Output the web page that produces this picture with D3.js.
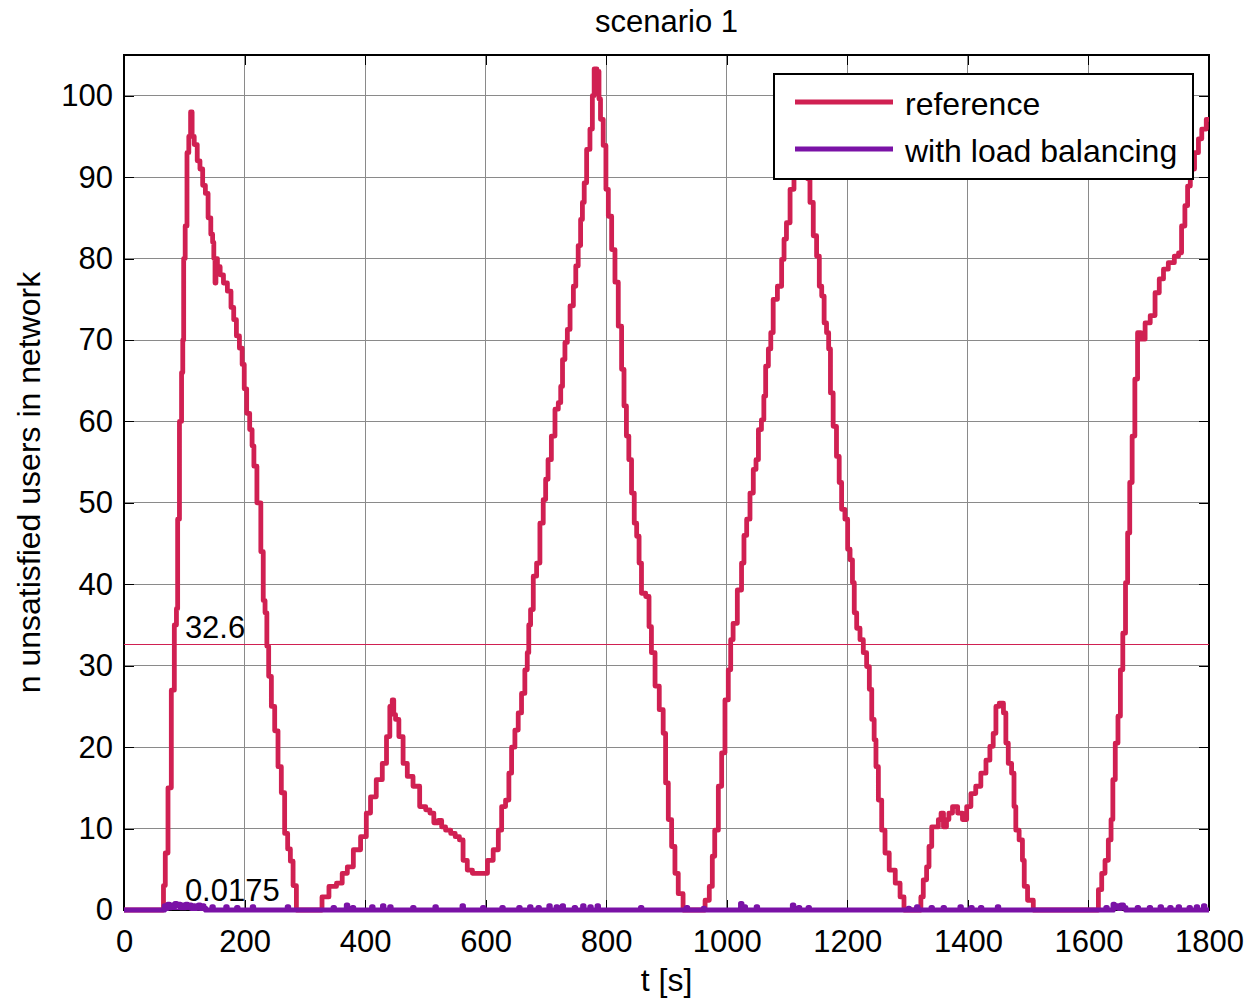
<!DOCTYPE html>
<html>
<head>
<meta charset="utf-8">
<title>scenario 1</title>
<script src="https://d3js.org/d3.v7.min.js"></script>
<style>
  body { margin: 0; background: #fff; }
  svg text { font-family: "Liberation Sans", Arial, sans-serif; fill: #000; }
  .grid line { stroke: #8a8a8a; stroke-width: 1; shape-rendering: crispEdges; }
  .axis line { stroke: #000; shape-rendering: crispEdges; }
  .axis path { display: none; }
</style>
</head>
<body>
<svg width="1249" height="1000"></svg>
<script>
// ---- data ----
var xTicks = [0, 200, 400, 600, 800, 1000, 1200, 1400, 1600, 1800];
var yTicks = [0, 10, 20, 30, 40, 50, 60, 70, 80, 90, 100];
var seriesNames = ["reference", "with load balancing"];
var seriesColours = ["#d02052", "#7a12a6"];
var meanValues = [32.6, 0.0175];
var meanLabels = ["32.6", "0.0175"];

// reference: [t, unsatisfied users]
var refPoints = [
  [0,0],[64,0],[67,3],[70,7],[76,15],[81,27],[86,35],[88,37],[90,48],[94,60],[97,66],[98,70],
  [100,80],[103,84],[106,93],[109,95],[112,98],[114,95],[119,94],[124,92],[128,91],[133,89],
  [137,88],[142,85],[146,83],[148,82],[150,80],[152,77],[153,80],[157,79],[162,78],[168,77],
  [175,76],[180,74],[184,72.5],[189,70.5],[194,69],[198,67],[201,64],[206,61],[211,59],[214,57],
  [217,54.5],[224,50],[230,44],[232,38],[236,36.5],[238,32.4],[242,28.7],[247,25],[253,22],
  [258,17.6],[264,14.4],[269,9.4],[274,7.5],[278,6],[283,3],[289,0],
  [324,0],[333,1.6],[347,2.9],[358,3.3],[366,4.5],[375,5.3],[386,7.4],[399,9],[405,11.9],
  [413,13.9],[424,16],[433,18],[438,21.3],[444,25],[446,25.8],[449,24],[452,23.4],[460,21.3],
  [466,18],[474,16.4],[485,15.2],[496,12.7],[505,12.3],[510,11.9],[518,10.7],[525,11],[529,10.2],
  [538,9.8],[546,9.4],[553,9],[560,8.6],[565,6.1],[574,4.9],[582,4.5],[590,4.5],[599,4.5],
  [607,6.1],[618,7.4],[624,9.8],[629,12.7],[637,13.5],[640,16.8],[646,20],[651,22.1],[657,24.2],
  [662,26.6],[668,29.5],[670,31.6],[673,35],[676,36.9],[682,41],[687,42.6],[693,47.5],[698,50.4],
  [701,52.9],[706,55.3],[712,58.2],[718,61.5],[723,62.3],[726,64.3],[729,67.6],[734,69.7],
  [737,71.3],[743,74.2],[748,76.6],[751,79.1],[756,81.6],[759,84.8],[762,86.9],[765,89.3],
  [770,93.4],[776,95.9],[778,100],[782,103.3],[787,103],[789,99.6],[792,97.1],[798,93.9],
  [801,88.5],[806,85.2],[812,81.1],[817,77.1],[823,71.7],[828,66.4],[831,61.9],[836,58.2],
  [839,55.3],[845,51.2],[848,47.5],[853,45.9],[856,42.6],[861,38.9],[870,38.5],[872,34.8],
  [878,31.6],[884,27.5],[892,24.6],[897,21.7],[900,15.6],[906,11.1],[911,7.8],[917,4.5],
  [922,2],[933,0],
  [961,0],[967,1.2],[975,2.9],[977,6.6],[983,9.8],[989,15.2],[994,19.3],[1000,25.8],[1005,29.5],
  [1008,33.2],[1013,35.2],[1022,39.3],[1027,42.6],[1030,46],[1036,48],[1041,51.2],[1047,54.1],
  [1050,55.3],[1055,59],[1060,60.2],[1063,63.1],[1066,66.8],[1072,68.9],[1074,70.9],[1080,75],
  [1088,76.6],[1094,79.9],[1096,82.4],[1102,84.4],[1108,88.5],[1115,92],[1122,95],[1128,96],
  [1133,92],[1135,89.8],[1141,86.9],[1146,82.8],[1152,80.3],[1155,76.6],[1160,75.4],[1163,72.1],
  [1168,70.9],[1170,68.9],[1174,63.5],[1179,59.4],[1185,55.7],[1188,52.5],[1193,49.2],[1199,48],
  [1202,44.3],[1207,43],[1210,40.2],[1213,36.5],[1218,34.6],[1224,33.2],[1229,31.6],[1235,29.9],
  [1238,27.1],[1243,23.4],[1246,20.9],[1249,17.6],[1254,13.5],[1260,9.8],[1265,7],[1274,4.9],
  [1285,3.3],[1290,1.6],[1298,0],
  [1321,0],[1323,1.6],[1329,3.7],[1334,5.3],[1337,7.8],[1343,10.2],[1348,10.2],[1354,11.1],
  [1357,11.9],[1362,10.2],[1367,11.1],[1370,11.9],[1379,12.7],[1387,11.9],[1395,11.1],[1401,12.7],
  [1409,14.3],[1417,15.2],[1426,16.8],[1434,18.4],[1439,20.1],[1445,21.7],[1448,25],[1456,25.4],
  [1462,24.2],[1464,20.5],[1470,18],[1475,16.8],[1478,12.7],[1481,9.8],[1489,8.6],[1492,6.1],
  [1495,2.9],[1503,1.2],[1514,0],
  [1614,0],[1619,2.5],[1625,4.5],[1630,6.1],[1636,8.6],[1639,11.1],[1642,16],[1647,20.5],
  [1651,23.8],[1655,29.5],[1659,34],[1664,40.2],[1666,46.3],[1671,52.5],[1674,58.2],[1680,65.2],
  [1683,70.9],[1691,70.1],[1697,72.1],[1708,73],[1713,75.8],[1722,77.5],[1727,78.7],[1738,79.5],
  [1747,80.3],[1752,80.7],[1757,84],[1763,86.5],[1766,88.9],[1772,91],[1780,93],[1785,94.7],
  [1791,95.9],[1800,97.1]
];

// with load balancing: almost always zero, small blips
var lbPoints = [
  [0,0],[66,0],[68,0.5],[71,0.2],[74,0.7],[77,0.3],[80,0.6],[83,0.4],[86,0.8],[89,0.5],[92,0.7],
  [95,0.3],[98,0.6],[101,0.3],[104,0.7],[107,0.4],[110,0.6],[113,0.2],[116,0.5],[119,0.2],
  [122,0.4],[125,0.6],[128,0.2],[131,0.5],[134,0.2],[137,0],
  [145,0],[147,0.4],[149,0],[168,0],[170,0.4],[172,0],[186,0],[188,0.3],[190,0],[212,0],[214,0.4],
  [216,0],[270,0],[272,0.4],[274,0],
  [346,0],[348,0.3],[350,0],[368,0],[370,0.6],[372,0],[378,0],[380,0.3],[382,0],[410,0],[412,0.4],
  [414,0],[428,0],[430,0.5],[432,0],[440,0],[442,0.4],[444,0],[478,0],[480,0.3],[482,0],[515,0],
  [517,0.4],[519,0],
  [560,0],[562,0.5],[564,0],[594,0],[596,0.3],[598,0],[626,0],[628,0.3],[630,0],[654,0],[656,0.3],
  [658,0],[672,0],[674,0.4],[676,0],[686,0],[688,0.3],[690,0],[704,0],[706,0.5],[708,0],[716,0],
  [718,0.4],[720,0],[726,0],[728,0.5],[730,0],[746,0],[748,0.3],[750,0],[760,0],[762,0.5],[764,0],
  [772,0],[774,0.4],[776,0],[784,0],[786,0.5],[788,0],
  [856,0],[858,0.3],[860,0],[932,0],[934,0.3],[936,0],[960,0],[962,0.2],[964,0],[1022,0],
  [1024,0.8],[1026,0],[1028,0],[1030,0.4],[1032,0],[1048,0],[1050,0.4],[1052,0],[1108,0],
  [1110,0.6],[1112,0],[1118,0],[1120,0.3],[1122,0],[1134,0],[1136,0.3],[1138,0],
  [1300,0],[1302,0.2],[1304,0],[1314,0],[1316,0.4],[1318,0],[1338,0],[1340,0.3],[1342,0],
  [1358,0],[1360,0.3],[1362,0],[1386,0],[1388,0.4],[1390,0],[1404,0],[1406,0.3],[1408,0],
  [1420,0],[1422,0.3],[1424,0],[1448,0],[1450,0.4],[1452,0],
  [1628,0],[1630,0.3],[1632,0],[1640,0],[1642,0.7],[1644,0.3],[1648,0.5],[1652,0.2],[1656,0.6],
  [1660,0.3],[1664,0],[1680,0],[1682,0.3],[1684,0],[1700,0],[1702,0.3],[1704,0],[1718,0],
  [1720,0.4],[1722,0],[1734,0],[1736,0.3],[1738,0],[1748,0],[1750,0.4],[1752,0],[1766,0],
  [1768,0.3],[1770,0],[1778,0],[1780,0.4],[1782,0],[1790,0],[1792,0.5],[1794,0],[1800,0]
];

// ---- layout ----
var svg = d3.select("svg"),
    margin = {top: 55, right: 40, bottom: 90, left: 124},
    width = +svg.attr("width") - margin.left - margin.right,
    height = +svg.attr("height") - margin.top - margin.bottom;

var g = svg.append("g")
    .attr("transform", "translate(" + margin.left + "," + margin.top + ")");

var x = d3.scaleLinear().domain([0, 1800]).range([0, width]);
var y = d3.scaleLinear().domain([0, 105]).range([height, 0]);

// grid
var grid = g.append("g").attr("class", "grid");
grid.selectAll(".gx").data(xTicks).enter().append("line")
    .attr("x1", function(d){ return x(d); }).attr("x2", function(d){ return x(d); })
    .attr("y1", 0).attr("y2", height);
grid.selectAll(".gy").data(yTicks).enter().append("line")
    .attr("x1", 0).attr("x2", width)
    .attr("y1", function(d){ return y(d); }).attr("y2", function(d){ return y(d); });

// axes with inward ticks (drawn under the data, like the original)
var bottom = g.append("g").attr("class", "axis")
    .attr("transform", "translate(0," + height + ")")
    .call(d3.axisBottom(x).tickValues(xTicks).tickSize(-10).tickPadding(20).tickFormat(d3.format("d")));
bottom.selectAll("text").attr("font-size", 31).attr("font-family", null);

var left = g.append("g").attr("class", "axis")
    .call(d3.axisLeft(y).tickValues(yTicks).tickSize(-10).tickPadding(11).tickFormat(d3.format("d")));
left.selectAll("text").attr("font-size", 31).attr("font-family", null);

g.append("g").attr("class", "axis")
    .call(d3.axisTop(x).tickValues(xTicks).tickSize(-10).tickFormat(""));
g.append("g").attr("class", "axis")
    .attr("transform", "translate(" + width + ",0)")
    .call(d3.axisRight(y).tickValues(yTicks).tickSize(-10).tickFormat(""));

g.append("rect")
    .attr("width", width).attr("height", height)
    .attr("fill", "none").attr("stroke", "#000").attr("stroke-width", 1.2)
    .attr("shape-rendering", "crispEdges");

// mean lines
g.selectAll(".mean").data(meanValues).enter().append("line")
    .attr("x1", 0).attr("x2", width)
    .attr("y1", function(d){ return y(d); }).attr("y2", function(d){ return y(d); })
    .attr("stroke", function(d, i){ return seriesColours[i]; })
    .attr("stroke-width", 1)
    .attr("shape-rendering", "crispEdges");

// series, stair-stepped like the simulated counts
var line = d3.line()
    .curve(d3.curveStep)
    .x(function(d){ return x(d[0]); })
    .y(function(d){ return y(d[1]); });

[refPoints, lbPoints].forEach(function(pts, i){
  g.append("path")
      .datum(pts)
      .attr("fill", "none")
      .attr("stroke", seriesColours[i])
      .attr("stroke-width", i == 0 ? 4.8 : 5.2)
      .attr("stroke-linejoin", "round")
      .attr("d", line);
});

// mean labels
g.selectAll(".meanlabel").data(meanValues).enter().append("text")
    .attr("x", x(101))
    .attr("y", function(d, i){ return y(d) - (i == 0 ? 7 : 9); })
    .attr("font-size", 31)
    .text(function(d, i){ return meanLabels[i]; });

// legend
var legend = g.append("g").attr("transform", "translate(" + (774 - margin.left) + "," + (74 - margin.top) + ")");
legend.append("rect")
    .attr("width", 419).attr("height", 105)
    .attr("fill", "#fff").attr("stroke", "#000").attr("stroke-width", 1.2)
    .attr("shape-rendering", "crispEdges");
var item = legend.selectAll(".item").data(seriesNames).enter().append("g")
    .attr("transform", function(d, i){ return "translate(0," + (28 + i * 47) + ")"; });
item.append("line")
    .attr("x1", 21).attr("x2", 119)
    .attr("stroke", function(d, i){ return seriesColours[i]; })
    .attr("stroke-width", 4.8);
item.append("text")
    .attr("x", 131).attr("y", 13)
    .attr("font-size", 32)
    .text(function(d){ return d; });

// titles
svg.append("text")
    .attr("x", margin.left + width / 2).attr("y", 32)
    .attr("text-anchor", "middle").attr("font-size", 31)
    .text("scenario 1");
svg.append("text")
    .attr("x", margin.left + width / 2).attr("y", 991)
    .attr("text-anchor", "middle").attr("font-size", 32)
    .text("t [s]");
svg.append("text")
    .attr("transform", "translate(40," + (margin.top + height / 2) + ") rotate(-90)")
    .attr("text-anchor", "middle").attr("font-size", 32)
    .text("n unsatisfied users in network");
</script>
</body>
</html>
